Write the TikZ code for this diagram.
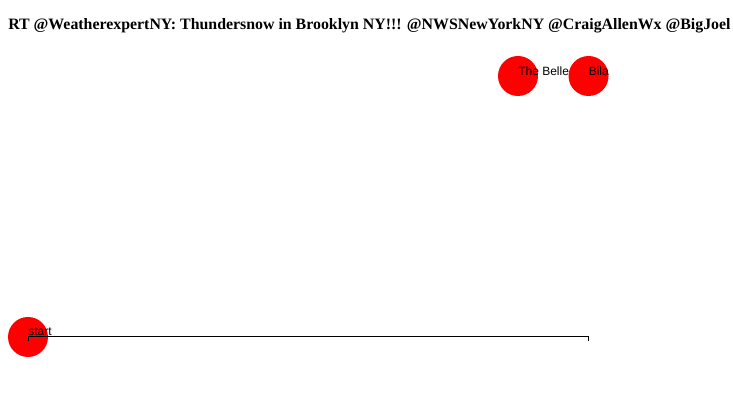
\documentclass[tikz,border=0pt]{standalone}
\usepackage{fontspec}
\setmainfont{Liberation Serif}
\setsansfont{Liberation Sans}
\usetikzlibrary{positioning, calc}
\tikzset{
  reddot/.style={circle, fill=red, draw=none, minimum size=30pt, inner sep=0pt},
  tagtext/.style={anchor=base west, inner sep=0pt,
    font=\sffamily\fontsize{9}{9}\selectfont},
  headline/.style={anchor=base west, inner sep=0pt,
    font=\bfseries\fontsize{11.9}{12}\selectfont},
  axisline/.style={draw=black, line width=0.75pt}
}

\begin{document}
\begin{tikzpicture}[x=0.75pt, y=-0.75pt]
    \useasboundingbox (0,0) rectangle (733,402);
    \clip (0,0) rectangle (733,402);
    \fill[white] (0,0) rectangle (733,402);
    \node[headline] (tweet) at (8,30)
      {RT @WeatherexpertNY: Thundersnow in Brooklyn NY!!! @NWSNewYorkNY @CraigAllenWx @BigJoel};
    \node[reddot] (belle) at (518,76) {};
    \node[tagtext] (belletext) at (belle.center) {The Belle};
    \node[reddot, right=22.5pt of belle] (bila) {};
    \node[tagtext] (bilatext) at (bila.center) {Bila};
    \node[reddot] (start) at (28,337) {};
    \coordinate (axisleft) at (28,341);
    \coordinate (axisright) at (588,341);
    \draw[axisline] (axisleft) -- (start.center) -- (start.center -| axisright) -- (axisright);
    \node[tagtext] (starttext) at ($(start.center)+(0,-1)$) {start};
  \end{tikzpicture}
\end{document}
